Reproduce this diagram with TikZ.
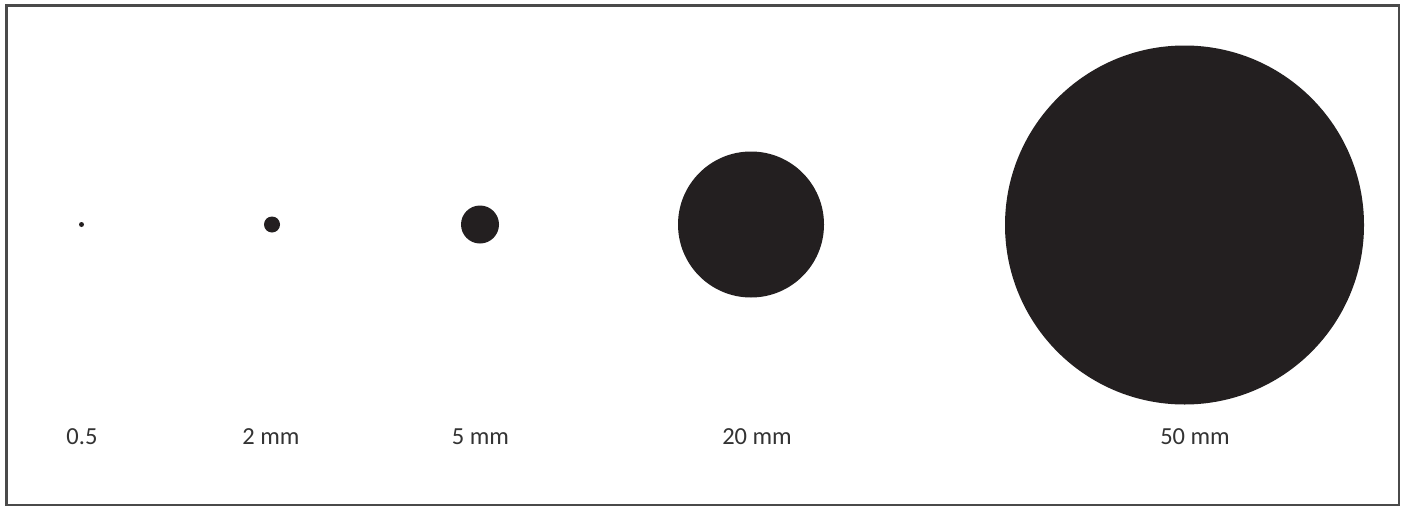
\documentclass[tikz,border=0pt]{standalone}
\usepackage{fontspec}
\setmainfont{Carlito}
\definecolor{ink}{HTML}{231F20}
\definecolor{frame}{HTML}{4A4A4A}
\definecolor{txt}{HTML}{333333}
\begin{document}
\begin{tikzpicture}[x=1pt,y=-1pt,
  dot/.style={circle,fill=ink,inner sep=0pt,minimum size=#1},
  lab/.style={text=txt,font=\fontsize{24.5}{28}\selectfont,inner sep=0pt,anchor=center}]
\useasboundingbox (0,0) rectangle (1407,506);
\fill[white] (0,0) rectangle (1407,506);
\draw[frame,line width=2.2pt] (6.5,5.5) rectangle (1399,505);
\node[dot=5pt]   (d1) at (81.5,224.5) {};
\node[dot=16pt]  (d2) at (272,224.5) {};
\node[dot=38pt]  (d3) at (480,224.5) {};
\node[dot=146pt] (d4) at (751,224.5) {};
\node[dot=359pt] (d5) at (1184.5,225) {};
\node[lab] (l1) at (82,437) {0.5};
\node[lab] (l2) at (271,437) {2 mm};
\node[lab] (l3) at (480.5,437) {5 mm};
\node[lab] (l4) at (757,437) {20 mm};
\node[lab] (l5) at (1195,437) {50 mm};
\end{tikzpicture}
\end{document}
